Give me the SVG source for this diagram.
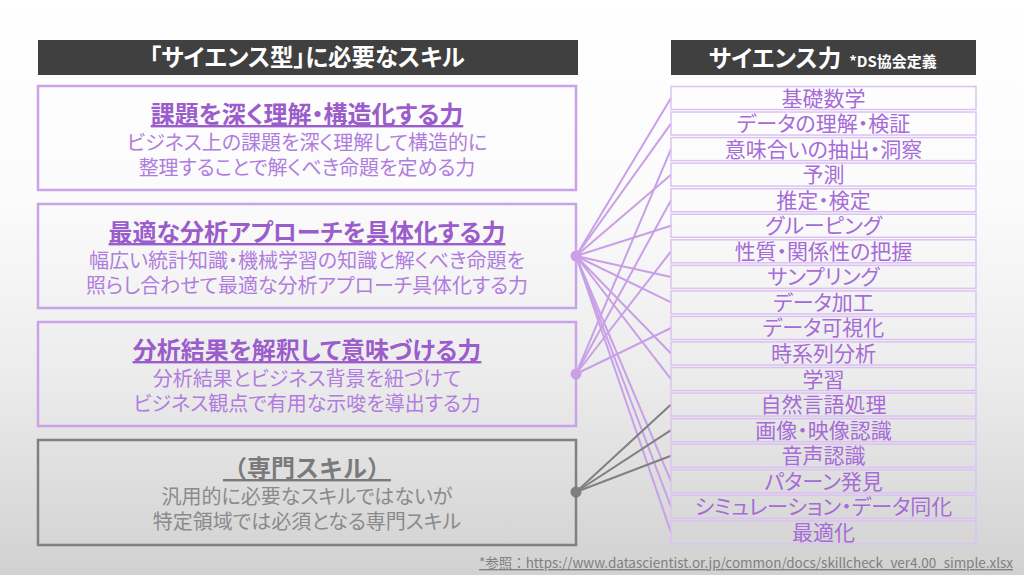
<svg xmlns="http://www.w3.org/2000/svg" width="1024" height="575" viewBox="0 0 1024 575">
<defs>
<linearGradient id="bg" x1="0" y1="0" x2="0" y2="1">
<stop offset="0" stop-color="#ffffff"/>
<stop offset="0.35" stop-color="#fbfbfb"/>
<stop offset="0.65" stop-color="#ececec"/>
<stop offset="1" stop-color="#d1d1d1"/>
</linearGradient>
<style>
text{font-family:'Noto Sans CJK JP','Noto Sans',sans-serif;font-feature-settings:"palt";text-anchor:middle}
.hdr{fill:#404040}
.hdrt{fill:#ffffff;font-weight:bold;font-size:23.5px}
.box{fill:none;stroke:#c9a3ea;stroke-width:2.5}
.gbox{fill:none;stroke:#808080;stroke-width:2.5}
.ttl{fill:#9b5ccc;font-weight:bold;font-size:24px;text-decoration:underline;text-decoration-thickness:2px;text-underline-offset:4px}
.gttl{fill:#7a7a7a;font-weight:bold;font-size:24px;text-decoration:underline;text-decoration-thickness:2px;text-underline-offset:4px;font-feature-settings:normal}
.body{fill:#b07ddf;font-size:20px}
.gbody{fill:#8a8a8a;font-size:20px}
.item rect{fill:none;stroke:#dcc2f2;stroke-width:1.5}
.item text{fill:#a66bd8;font-size:21px}
.cp{stroke:#c9a0e8;stroke-width:2;fill:none}
.cg{stroke:#808080;stroke-width:2;fill:none}
.dp{fill:#c9a0e8}
.dg{fill:#7f7f7f}
.ref{fill:#808080;font-size:13.5px;text-anchor:end;text-decoration:underline;font-feature-settings:normal}
</style>
</defs>
<rect x="0" y="0" width="1024" height="575" fill="url(#bg)"/>

<g id="header-left">
<rect class="hdr" x="38" y="40" width="540" height="35"/>
<text class="hdrt" x="307" y="66">「サイエンス型」に必要なスキル</text>
</g>
<g id="header-right">
<rect class="hdr" x="671" y="40" width="305" height="35"/>
<text class="hdrt" x="775" y="67">サイエンス力</text>
<text x="893" y="67" style="fill:#ffffff;font-weight:bold;font-size:15px">*DS協会定義</text>
</g>

<g id="connectors">
<line class="cp" x1="576" y1="256" x2="671" y2="98"/>
<line class="cp" x1="576" y1="256" x2="671" y2="123.6"/>
<line class="cp" x1="576" y1="256" x2="671" y2="174.7"/>
<line class="cp" x1="576" y1="256" x2="671" y2="225.8"/>
<line class="cp" x1="576" y1="256" x2="671" y2="276.9"/>
<line class="cp" x1="576" y1="256" x2="671" y2="302.4"/>
<line class="cp" x1="576" y1="256" x2="671" y2="353.5"/>
<line class="cp" x1="576" y1="256" x2="671" y2="379.1"/>
<line class="cp" x1="576" y1="256" x2="671" y2="481.3"/>
<line class="cp" x1="576" y1="256" x2="671" y2="506.8"/>
<line class="cp" x1="576" y1="256" x2="671" y2="532.4"/>
<line class="cp" x1="576" y1="374" x2="671" y2="149.1"/>
<line class="cp" x1="576" y1="374" x2="671" y2="200.2"/>
<line class="cp" x1="576" y1="374" x2="671" y2="251.3"/>
<line class="cp" x1="576" y1="374" x2="671" y2="328"/>
<line class="cg" x1="576" y1="492" x2="671" y2="404.6"/>
<line class="cg" x1="576" y1="492" x2="671" y2="430.2"/>
<line class="cg" x1="576" y1="492" x2="671" y2="455.7"/>
</g>

<g id="skill-1">
<rect class="box" x="38" y="86" width="538" height="104"/>
<text class="ttl" x="307" y="123">課題を深く理解・構造化する力</text>
<text class="body" x="307" y="150">ビジネス上の課題を深く理解して構造的に</text>
<text class="body" x="307" y="175">整理することで解くべき命題を定める力</text>
</g>
<g id="skill-2">
<rect class="box" x="38" y="204" width="538" height="104"/>
<text class="ttl" x="307" y="241">最適な分析アプローチを具体化する力</text>
<text class="body" x="307" y="268">幅広い統計知識・機械学習の知識と解くべき命題を</text>
<text class="body" x="307" y="293">照らし合わせて最適な分析アプローチ具体化する力</text>
<circle class="dp" cx="576" cy="256" r="5.5"/>
</g>
<g id="skill-3">
<rect class="box" x="38" y="322" width="538" height="104"/>
<text class="ttl" x="307" y="359">分析結果を解釈して意味づける力</text>
<text class="body" x="307" y="386">分析結果とビジネス背景を紐づけて</text>
<text class="body" x="307" y="411">ビジネス観点で有用な示唆を導出する力</text>
<circle class="dp" cx="576" cy="374" r="5.5"/>
</g>
<g id="skill-4">
<rect class="gbox" x="38" y="440" width="538" height="105"/>
<text class="gttl" x="307" y="477">（専門スキル）</text>
<text class="gbody" x="307" y="504">汎用的に必要なスキルではないが</text>
<text class="gbody" x="307" y="529">特定領域では必須となる専門スキル</text>
<circle class="dg" cx="576" cy="492" r="5.5"/>
</g>

<g id="item-1" class="item" transform="translate(671,86.5)"><rect width="305" height="23"/><text x="152.5" y="19">基礎数学</text></g>
<g id="item-2" class="item" transform="translate(671,112.05)"><rect width="305" height="23"/><text x="152.5" y="19">データの理解・検証</text></g>
<g id="item-3" class="item" transform="translate(671,137.6)"><rect width="305" height="23"/><text x="152.5" y="19">意味合いの抽出・洞察</text></g>
<g id="item-4" class="item" transform="translate(671,163.15)"><rect width="305" height="23"/><text x="152.5" y="19">予測</text></g>
<g id="item-5" class="item" transform="translate(671,188.7)"><rect width="305" height="23"/><text x="152.5" y="19">推定・検定</text></g>
<g id="item-6" class="item" transform="translate(671,214.25)"><rect width="305" height="23"/><text x="152.5" y="19">グルーピング</text></g>
<g id="item-7" class="item" transform="translate(671,239.8)"><rect width="305" height="23"/><text x="152.5" y="19">性質・関係性の把握</text></g>
<g id="item-8" class="item" transform="translate(671,265.35)"><rect width="305" height="23"/><text x="152.5" y="19">サンプリング</text></g>
<g id="item-9" class="item" transform="translate(671,290.9)"><rect width="305" height="23"/><text x="152.5" y="19">データ加工</text></g>
<g id="item-10" class="item" transform="translate(671,316.45)"><rect width="305" height="23"/><text x="152.5" y="19">データ可視化</text></g>
<g id="item-11" class="item" transform="translate(671,342)"><rect width="305" height="23"/><text x="152.5" y="19">時系列分析</text></g>
<g id="item-12" class="item" transform="translate(671,367.55)"><rect width="305" height="23"/><text x="152.5" y="19">学習</text></g>
<g id="item-13" class="item" transform="translate(671,393.1)"><rect width="305" height="23"/><text x="152.5" y="19">自然言語処理</text></g>
<g id="item-14" class="item" transform="translate(671,418.65)"><rect width="305" height="23"/><text x="152.5" y="19">画像・映像認識</text></g>
<g id="item-15" class="item" transform="translate(671,444.2)"><rect width="305" height="23"/><text x="152.5" y="19">音声認識</text></g>
<g id="item-16" class="item" transform="translate(671,469.75)"><rect width="305" height="23"/><text x="152.5" y="19">パターン発見</text></g>
<g id="item-17" class="item" transform="translate(671,495.3)"><rect width="305" height="23"/><text x="152.5" y="19">シミュレーション・データ同化</text></g>
<g id="item-18" class="item" transform="translate(671,520.85)"><rect width="305" height="23"/><text x="152.5" y="19">最適化</text></g>

<text class="ref" x="1013" y="568" textLength="534" lengthAdjust="spacing">*参照：https://www.datascientist.or.jp/common/docs/skillcheck_ver4.00_simple.xlsx</text>
</svg>
